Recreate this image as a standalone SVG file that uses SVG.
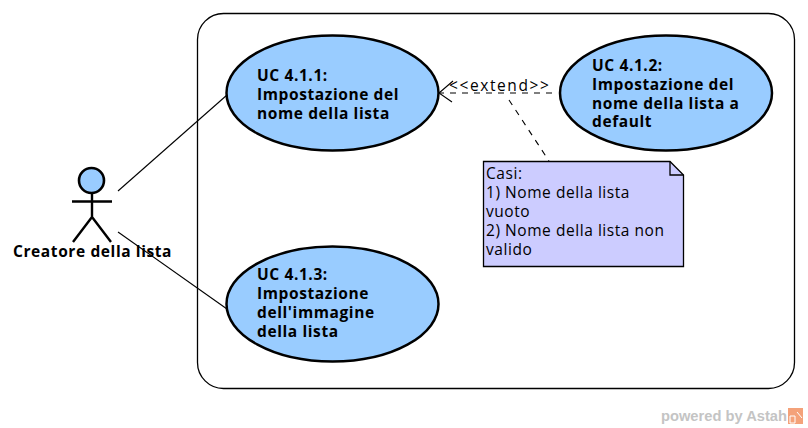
<svg xmlns="http://www.w3.org/2000/svg" width="808" height="428" viewBox="0 0 808 428">
<style>
text{font-family:"Open Sans","DejaVu Sans",sans-serif;fill:#000}
.b{font-weight:700;font-size:15.500px;letter-spacing:.6px}
.n{font-size:15.500px;letter-spacing:.55px}
.uc{fill:#99ccff;stroke:#000;stroke-width:2.5}
.c{fill:none;stroke:#000;stroke-width:1.1}
.d{stroke-dasharray:6 6}
.a{fill:none;stroke:#000;stroke-width:2.4}
</style>
<rect id="boundary" x="197.500" y="13.500" width="597" height="375" rx="26" ry="26" fill="#fff" stroke="#000" stroke-width="1.300"/>
<g id="actor">
<circle cx="91.500" cy="180.500" r="12.500" fill="#99ccff" stroke="#000" stroke-width="2.600"/>
<path class="a" d="M92 193V217M72 201.500H112M92 217L73 242M92 217L111 242"/>
<text class="b" x="13" y="257">Creatore della lista</text>
</g>
<g id="connectors">
<line class="c" x1="118" y1="191" x2="227" y2="95"/>
<line class="c" x1="118" y1="232" x2="227" y2="309"/>
<line class="c d" x1="552" y1="93" x2="440" y2="93"/>
<path class="c" d="M453 81L439 93L452 102"/>
<line class="c d" x1="509" y1="100" x2="549" y2="161"/>
</g>
<g id="uc411">
<ellipse class="uc" cx="332.500" cy="93" rx="106" ry="57.500"/>
<text class="b" x="257" y="81">UC 4.1.1:</text>
<text class="b" x="257" y="100">Impostazione del</text>
<text class="b" x="257" y="119">nome della lista</text>
</g>
<g id="uc412">
<ellipse class="uc" cx="666" cy="93" rx="106" ry="57.500"/>
<text class="b" x="592" y="71">UC 4.1.2:</text>
<text class="b" x="592" y="90">Impostazione del</text>
<text class="b" x="592" y="109">nome della lista a</text>
<text class="b" x="592" y="127">default</text>
</g>
<g id="uc413">
<ellipse class="uc" cx="332.500" cy="304" rx="106" ry="57.500"/>
<text class="b" x="257" y="280">UC 4.1.3:</text>
<text class="b" x="257" y="299">Impostazione</text>
<text class="b" x="257" y="318">dell'immagine</text>
<text class="b" x="257" y="337">della lista</text>
</g>
<text class="n" x="449" y="91" style="letter-spacing:1.600px">&lt;&lt;extend&gt;&gt;</text>
<g id="note">
<path d="M483.500 161.500H670L683.500 175V266.500H483.500Z" fill="#ccccff" stroke="#000" stroke-width="1.300"/>
<path d="M670 161.500V175H683.500" fill="none" stroke="#000" stroke-width="1.300"/>
<text class="n" x="486" y="179">Casi:</text>
<text class="n" x="486" y="198">1) Nome della lista</text>
<text class="n" x="486" y="217">vuoto</text>
<text class="n" x="486" y="236">2) Nome della lista non</text>
<text class="n" x="486" y="255">valido</text>
</g>
<g id="watermark">
<text x="661" y="421" style="font-family:'Liberation Sans',sans-serif;font-weight:bold;font-size:14.700px;fill:#c4c4c4">powered by Astah</text>
<path d="M788 408H803V424H788Z" fill="#f4a27a"/>
<path d="M790 416H795V423H790ZM797 412L802 418" fill="none" stroke="#fff" stroke-width="1"/>
</g>
</svg>
